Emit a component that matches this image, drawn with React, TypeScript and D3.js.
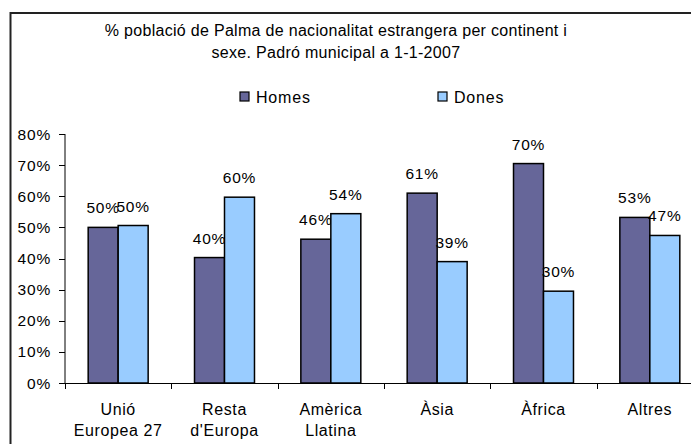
// @ts-nocheck
import React from "react";
import * as d3 from "d3";

const categories = [
  ["Unió", "Europea 27"],
  ["Resta", "d'Europa"],
  ["Amèrica", "Llatina"],
  ["Àsia"],
  ["Àfrica"],
  ["Altres"],
];
const homes = [50, 40.3, 46.2, 61, 70.5, 53.2];
const dones = [50.6, 59.7, 54.4, 39, 29.5, 47.4];
const homesLabels = ["50%", "40%", "46%", "61%", "70%", "53%"];
const donesLabels = ["50%", "60%", "54%", "39%", "30%", "47%"];
const yTicks = [0, 10, 20, 30, 40, 50, 60, 70, 80];
const titleLines = [
  "% població de Palma de nacionalitat estrangera per continent i",
  "sexe. Padró municipal a 1-1-2007",
];
const seriesNames = ["Homes", "Dones"];
const colors = ["#666699", "#99ccff"];

const FONT = "'Liberation Sans', Arial, sans-serif";

const App = () => {
  const svgRef = React.useRef(null);
  const width = 691;
  const height = 444;
  const plot = { left: 65, right: 703, top: 134, bottom: 383 };

  React.useEffect(() => {
    const svg = d3.select(svgRef.current);
    svg.selectAll("*").remove();

    const x = d3.scaleBand()
      .domain(d3.range(categories.length))
      .range([plot.left, plot.right])
      .paddingInner(0.436)
      .paddingOuter(0.218);
    const inner = d3.scaleBand()
      .domain([0, 1])
      .range([0, x.bandwidth()]);
    const y = d3.scaleLinear().domain([0, 80]).range([plot.bottom, plot.top]);
    const step = x.step();

    // outer frame
    svg.append("path")
      .attr("d", `M10.5,${height} V13 H${width}`)
      .attr("fill", "none")
      .attr("stroke", "#222")
      .attr("stroke-width", 2);

    // title
    svg.append("g").selectAll("text")
      .data(titleLines)
      .enter()
      .append("text")
      .attr("x", 336)
      .attr("y", (d, i) => 36 + i * 22)
      .attr("text-anchor", "middle")
      .attr("font-family", FONT)
      .attr("font-size", 16)
      .attr("letter-spacing", 0.3)
      .text((d) => d);

    // legend
    const legendX = [240, 438];
    const legend = svg.append("g").selectAll("g")
      .data(seriesNames)
      .enter()
      .append("g")
      .attr("transform", (d, i) => `translate(${legendX[i]}, 92)`);
    legend.append("rect")
      .attr("width", 9)
      .attr("height", 9)
      .attr("fill", (d, i) => colors[i])
      .attr("stroke", "#000")
      .attr("stroke-width", 1.2);
    legend.append("text")
      .attr("x", 16)
      .attr("y", 11)
      .attr("font-family", FONT)
      .attr("font-size", 16)
      .attr("letter-spacing", 0.8)
      .text((d) => d);

    const g = svg.append("g");

    // y axis
    g.append("line")
      .attr("x1", plot.left).attr("x2", plot.left)
      .attr("y1", plot.top).attr("y2", plot.bottom)
      .attr("stroke", "#000");
    g.selectAll(".ytick")
      .data(yTicks)
      .enter()
      .append("line")
      .attr("x1", plot.left - 6).attr("x2", plot.left)
      .attr("y1", (d) => Math.round(y(d)) + 0.5)
      .attr("y2", (d) => Math.round(y(d)) + 0.5)
      .attr("stroke", "#000");
    g.selectAll(".ylab")
      .data(yTicks)
      .enter()
      .append("text")
      .attr("x", 51)
      .attr("y", (d) => y(d) + 5.5)
      .attr("text-anchor", "end")
      .attr("font-family", FONT)
      .attr("font-size", 15.5)
      .attr("letter-spacing", 0.8)
      .text((d) => `${d}%`);

    // x axis
    g.append("line")
      .attr("x1", plot.left).attr("x2", width)
      .attr("y1", plot.bottom + 0.5).attr("y2", plot.bottom + 0.5)
      .attr("stroke", "#000");
    g.selectAll(".xtick")
      .data(d3.range(categories.length + 1))
      .enter()
      .append("line")
      .attr("x1", (d) => Math.round(plot.left + d * step) + 0.5)
      .attr("x2", (d) => Math.round(plot.left + d * step) + 0.5)
      .attr("y1", plot.bottom)
      .attr("y2", plot.bottom + 6)
      .attr("stroke", "#000");
    const catText = g.selectAll(".xlab")
      .data(categories)
      .enter()
      .append("text")
      .attr("text-anchor", "middle")
      .attr("font-family", FONT)
      .attr("font-size", 16)
      .attr("letter-spacing", 0.6);
    catText.selectAll("tspan")
      .data((d, i) => d.map((line) => ({ line, i })))
      .enter()
      .append("tspan")
      .attr("x", (d) => plot.left + (d.i + 0.5) * step)
      .attr("y", (d, j) => 415 + j * 21)
      .text((d) => d.line);

    // bars
    const series = [homes, dones];
    const labels = [homesLabels, donesLabels];
    series.forEach((vals, s) => {
      g.append("g").selectAll("rect")
        .data(vals)
        .enter()
        .append("rect")
        .attr("x", (d, i) => x(i) + inner(s))
        .attr("y", (d) => y(d))
        .attr("width", inner.bandwidth())
        .attr("height", (d) => plot.bottom - y(d))
        .attr("fill", colors[s])
        .attr("stroke", "#000")
        .attr("stroke-width", 1.5);
      g.append("g").selectAll("text")
        .data(vals)
        .enter()
        .append("text")
        .attr("x", (d, i) => x(i) + inner(s) + inner.bandwidth() / 2)
        .attr("y", (d) => y(d) - 14)
        .attr("text-anchor", "middle")
        .attr("font-family", FONT)
        .attr("font-size", 15.5)
        .attr("letter-spacing", 0.8)
        .text((d, i) => labels[s][i]);
    });
  }, []);

  return (
    <div style={{ position: "absolute", left: 0, top: 0 }}>
      <svg ref={svgRef} width={width} height={height} style={{ display: "block", background: "#fff" }} />
    </div>
  );
};

export default App;
